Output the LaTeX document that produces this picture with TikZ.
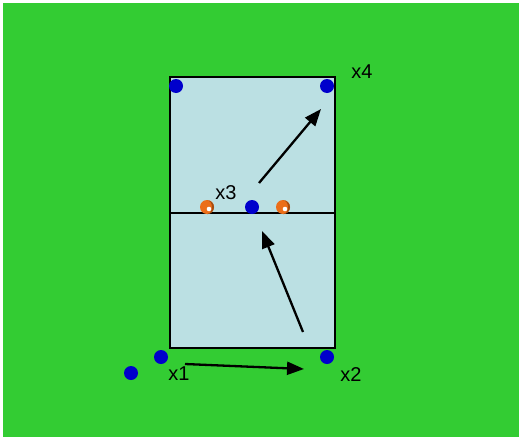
\documentclass[tikz,border=0pt]{standalone}
\usepackage{fontspec}
\setmainfont{Liberation Sans}
\definecolor{grass}{RGB}{51,204,51}
\definecolor{court}{RGB}{187,224,227}
\definecolor{player}{RGB}{0,0,204}
\definecolor{ballc}{RGB}{235,110,25}
\tikzset{
  plyr/.style={circle,fill=player,inner sep=0pt,minimum size=14pt},
  ball/.style={circle,inner sep=0pt,minimum size=14pt,fill=ballc},
  lbl/.style={font=\fontsize{20}{24}\selectfont,inner sep=0pt},
  mv/.style={-{Triangle[length=17pt,width=13pt]},line width=2.3pt}
}
\usetikzlibrary{arrows.meta}
\begin{document}
\begin{tikzpicture}[x=1pt,y=-1pt]
      \useasboundingbox (0,0) rectangle (521,439);
      \fill[white] (0,0) rectangle (521,439);
      \fill[grass] (3,3) rectangle (519,437);
      % court and net
      \filldraw[fill=court,draw=black,line width=1.8pt] (170,77) rectangle (335,348);
      \draw[line width=1.8pt] (170,213) -- (335,213);
      % players
      \node[plyr] (p1) at (176,86) {};
      \node[plyr] (p4) at (327,86) {};
      \node[plyr] (p3) at (252,207) {};
      \node[plyr] (p5) at (161,357) {};
      \node[plyr] (p6) at (131,373) {};
      \node[plyr] (p2) at (327,357) {};
      % balls
      \node[ball] (b1) at (207,207) {};
      \node[ball] (b2) at (283,207) {};
      \fill[ballc!70!black] (b1.south) arc (-90:90:7pt) arc (90:-90:5pt and 7pt);
      \fill[ballc!70!black] (b2.south) arc (-90:90:7pt) arc (90:-90:5pt and 7pt);
      \fill[white] (209,209) circle (2.3pt);
      \fill[white] (285,209) circle (2.3pt);
      % labels
      \node[lbl] (x4) at (362,72) {x4};
      \node[lbl] (x3) at (226,193) {x3};
      \node[lbl] (x1) at (179,374) {x1};
      \node[lbl] (x2) at (351,375) {x2};
      % movements
      \coordinate (a1) at (259,183);
      \coordinate (a2) at (321,109);
      \coordinate (a3) at (303,332);
      \coordinate (a4) at (262,231);
      \coordinate (a5) at (185,364);
      \coordinate (a6) at (304,369);
      \draw[mv] (a1) -- (a2);
      \draw[mv] (a3) -- (a4);
      \draw[mv] (a5) -- (a6);
\end{tikzpicture}
\end{document}
